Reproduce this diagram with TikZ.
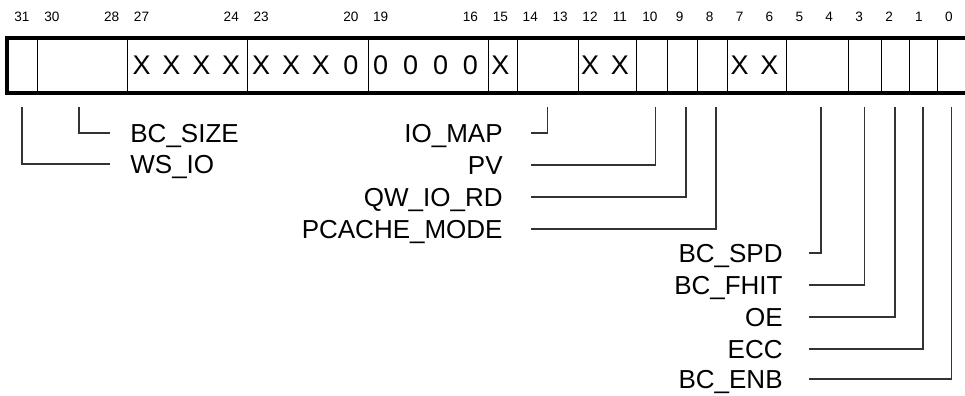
\documentclass[tikz,border=0pt]{standalone}
\usepackage{fontspec}
\setmainfont{Liberation Sans}
\usetikzlibrary{positioning}
\begin{document}
\begin{tikzpicture}[x=0.5pt, y=-0.5pt, node distance=16pt]
\tikzset{field/.style={rectangle, draw, line width=0.5pt, minimum height=27pt, inner sep=0pt}}
\tikzset{bitnum/.style={font=\fontsize{6.8}{8}\selectfont, inner sep=0pt}}
\tikzset{bitval/.style={font=\fontsize{13.5}{15}\selectfont, inner sep=0pt}}
\tikzset{lbl/.style={font=\fontsize{13}{15}\selectfont, inner sep=0pt, text height=9.3pt, text depth=0pt}}
\tikzset{lead/.style={line width=0.65pt, black!80}}

\useasboundingbox (0,0) rectangle (965,396);

% register fields
\foreach \l/\r/\n in {7/37/f31, 37/127/f30, 127/247/f27, 247/368/f23, 368/488/f19, 488/517/f15, 517/578/f14, 578/636/f12, 636/667/f10, 667/697/f9, 697/727/f8, 727/786/f7, 786/848/f5, 848/881/f3, 881/909/f2, 909/937/f1, 937/968/f0} {
  \pgfmathsetmacro\w{(\r-\l)*0.5}
  \node[field, minimum width=\w pt] (\n) at ({(\l+\r)/2},65) {};
}
\draw[line width=2pt] (f31.north west) rectangle (f0.south east);

% bit numbers and values
\foreach \b in {31,30,28,27,24,23,20,19,16,15,14,13,12,11,10,9,8,7,6,5,4,3,2,1,0}
  \node[bitnum] (b\b) at ({7+29.9*(31.5-\b)},17) {\b};
\foreach \b/\v in {27/X,26/X,25/X,24/X,23/X,22/X,21/X,20/0,19/0,18/0,17/0,16/0,15/X,12/X,11/X,7/X,6/X}
  \node[bitval] (v\b) at ({7+29.9*(31.5-\b)},65) {\v};

% field names
\node[lbl, anchor=west] (bcsize) at (130,133) {BC\_SIZE};
\node[lbl, below=15.5pt of bcsize.west, anchor=west] (wsio) {WS\_IO};

\node[lbl, anchor=east] (iomap) at (503,133) {IO\_MAP};
\node[lbl, below=of iomap.east, anchor=east] (pv) {PV};
\node[lbl, below=of pv.east, anchor=east] (qwiord) {QW\_IO\_RD};
\node[lbl, below=of qwiord.east, anchor=east] (pcache) {PCACHE\_MODE};

\node[lbl, anchor=east] (bcspd) at (783,253) {BC\_SPD};
\node[lbl, below=of bcspd.east, anchor=east] (bcfhit) {BC\_FHIT};
\node[lbl, below=of bcfhit.east, anchor=east] (oe) {OE};
\node[lbl, below=of oe.east, anchor=east] (ecc) {ECC};
\node[lbl, below=15pt of ecc.east, anchor=east] (bcenb) {BC\_ENB};

% leaders
\draw[lead] ([xshift=-10pt]bcsize.west) -| ([xshift=-1.5pt, yshift=-7pt]f30.south);
\draw[lead] ([xshift=-10pt]wsio.west) -| ([yshift=-7pt]f31.south);
\draw[lead] ([xshift=14pt]iomap.east) -| ([yshift=-7pt]f14.south);
\draw[lead] ([xshift=14pt]pv.east) -| ([xshift=2pt, yshift=-7pt]f10.south);
\draw[lead] ([xshift=14pt]qwiord.east) -| ([xshift=2pt, yshift=-7pt]f9.south);
\draw[lead] ([xshift=14pt]pcache.east) -| ([xshift=2pt, yshift=-7pt]f8.south);
\draw[lead] ([xshift=13pt]bcspd.east) -| ([xshift=2pt, yshift=-7pt]f5.south);
\draw[lead] ([xshift=13pt]bcfhit.east) -| ([yshift=-7pt]f3.south);
\draw[lead] ([xshift=13pt]oe.east) -| ([yshift=-7pt]f2.south);
\draw[lead] ([xshift=13pt]ecc.east) -| ([yshift=-7pt]f1.south);
\draw[lead] ([xshift=13pt]bcenb.east) -| ([xshift=-0.5pt, yshift=-7pt]f0.south);
\end{tikzpicture}
\end{document}
